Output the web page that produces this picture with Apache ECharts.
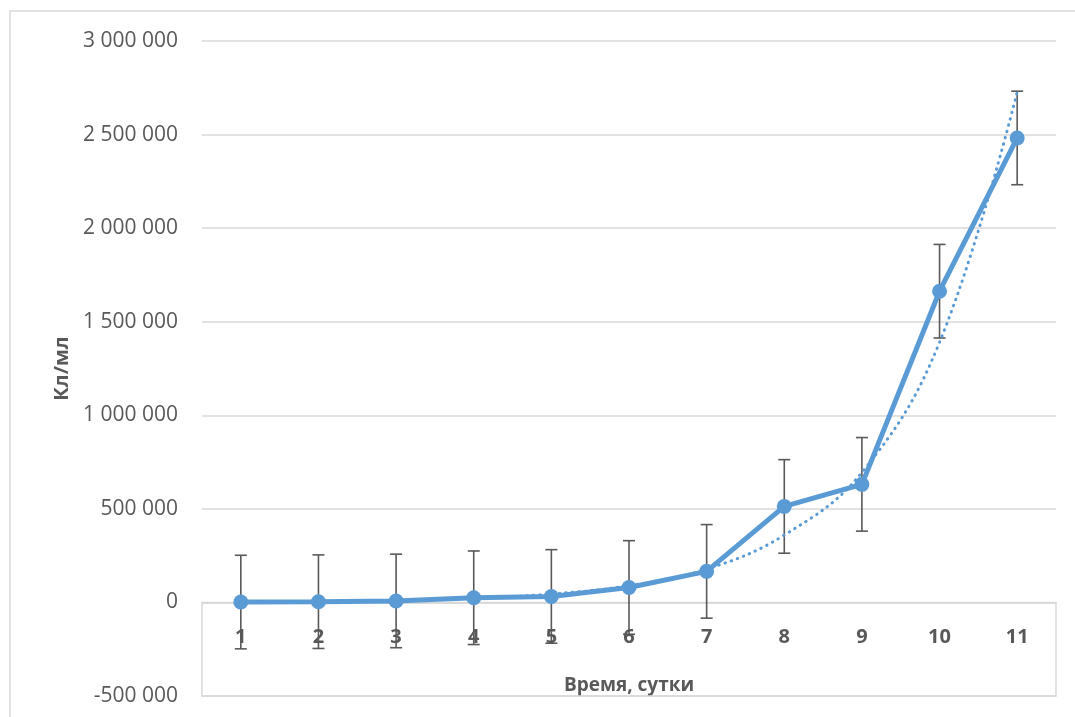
<!DOCTYPE html>
<html>
<head>
<meta charset="utf-8">
<script src="https://cdn.jsdelivr.net/npm/echarts@6/dist/echarts.min.js"></script>
<style>
html,body{margin:0;padding:0;background:#fff;}
#chart{width:1075px;height:717px;}
</style>
</head>
<body>
<div id="chart"></div>
<script>
// Data
var days = ['1','2','3','4','5','6','7','8','9','10','11'];
var cellsPerMl = [2000, 4000, 8000, 25000, 32000, 80000, 166000, 513000, 631000, 1663000, 2482000];
var errorAmount = [250000, 250000, 250000, 250000, 250000, 250000, 250000, 250000, 250000, 250000, 250000];
var trendValues = [3000, 6000, 12000, 23000, 45000, 90000, 178000, 360000, 695000, 1390000, 2727000];
var yTicks = { min: -500000, max: 3000000, step: 500000 };

var errorData = days.map(function (d, i) {
  return [i, cellsPerMl[i] - errorAmount[i], cellsPerMl[i] + errorAmount[i]];
});

function fmt(v) {
  return String(v).replace(/\B(?=(\d{3})+(?!\d))/g, ' ');
}

var W = 1075, H = 717;
var gridTop = 41, gridBottom = 21;
var plotH = H - gridTop - gridBottom;
// lift the category axis up to the value-axis zero line
var zeroOffset = -plotH * (0 - yTicks.min) / (yTicks.max - yTicks.min);

var chart = echarts.init(document.getElementById('chart'));
var textColor = '#595959';
var gridColor = '#d9d9d9';
var blue = '#5b9bd5';
var font = 'Open Sans';

chart.setOption({
  animation: false,
  backgroundColor: '#ffffff',
  grid: { left: 202, right: 19, top: gridTop, bottom: gridBottom, containLabel: false, outerBoundsMode: 'none' },
  graphic: [{
    type: 'rect',
    shape: { x: 10, y: 11, width: 1100, height: 800 },
    style: { fill: 'none', stroke: gridColor, lineWidth: 1.5 },
    silent: true
  }],
  xAxis: {
    type: 'category',
    data: days,
    boundaryGap: true,
    position: 'bottom',
    offset: zeroOffset,
    axisLine: { show: true, onZero: false, lineStyle: { color: gridColor, width: 1.5 } },
    axisTick: { show: false },
    axisLabel: { color: textColor, fontFamily: font, fontWeight: 'bold', fontSize: 20, margin: 25 },
    name: 'Время, сутки',
    nameLocation: 'middle',
    nameGap: 74,
    nameTextStyle: { color: textColor, fontFamily: font, fontWeight: 'bold', fontSize: 19 }
  },
  yAxis: {
    type: 'value',
    min: yTicks.min,
    max: yTicks.max,
    interval: yTicks.step,
    axisLine: { show: false },
    axisTick: { show: false },
    splitLine: { show: true, lineStyle: { color: gridColor, width: 1.5 } },
    axisLabel: { color: textColor, fontFamily: font, fontSize: 21, margin: 24, formatter: fmt },
    name: 'Кл/мл',
    nameLocation: 'middle',
    nameRotate: 90,
    nameGap: 128,
    nameTextStyle: { color: textColor, fontFamily: font, fontWeight: 'bold', fontSize: 20 }
  },
  series: [
    {
      type: 'custom',
      name: 'error',
      z: 1,
      data: errorData,
      renderItem: function (params, api) {
        var lo = api.coord([api.value(0), api.value(1)]);
        var hi = api.coord([api.value(0), api.value(2)]);
        var cap = 6;
        var st = { stroke: textColor, lineWidth: 1.6 };
        return {
          type: 'group',
          children: [
            { type: 'line', shape: { x1: hi[0], y1: hi[1], x2: lo[0], y2: lo[1] }, style: st },
            { type: 'line', shape: { x1: hi[0] - cap, y1: hi[1], x2: hi[0] + cap, y2: hi[1] }, style: st },
            { type: 'line', shape: { x1: lo[0] - cap, y1: lo[1], x2: lo[0] + cap, y2: lo[1] }, style: st }
          ]
        };
      }
    },
    {
      type: 'line',
      name: 'Кл/мл',
      z: 3,
      data: cellsPerMl,
      symbol: 'circle',
      symbolSize: 15,
      lineStyle: { color: blue, width: 5 },
      itemStyle: { color: blue },
      markArea: {
        silent: true,
        itemStyle: { color: 'rgba(0,0,0,0)', borderColor: gridColor, borderWidth: 1.5 },
        data: [[{ yAxis: yTicks.min }, { yAxis: 0 }]]
      }
    },
    {
      type: 'line',
      name: 'trend',
      z: 4,
      data: trendValues,
      smooth: 0.4,
      showSymbol: false,
      symbol: 'none',
      lineStyle: { color: blue, width: 3, type: [0.5, 6], cap: 'round' }
    }
  ]
});
</script>
</body>
</html>
